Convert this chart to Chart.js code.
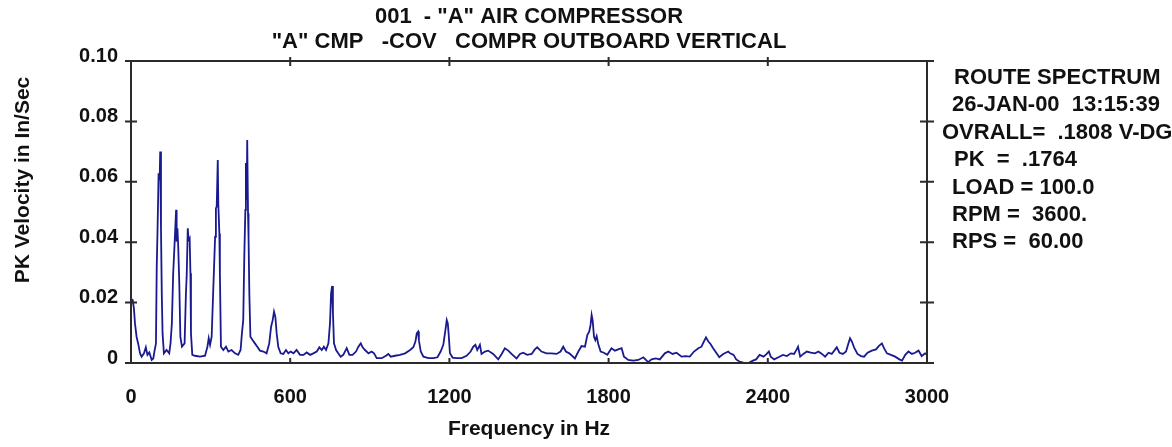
<!DOCTYPE html>
<html>
<head>
<meta charset="utf-8">
<script src="https://cdn.jsdelivr.net/npm/chart.js@4.4.0/dist/chart.umd.min.js"></script>
<style>
  html, body { margin: 0; padding: 0; background: #fff; }
  canvas { display: block; }
</style>
</head>
<body>
<canvas id="spectrumChart" width="1172" height="447"></canvas>
<script>
// ===================== data
const titleLines = ['001  - "A" AIR COMPRESSOR', '"A" CMP   -COV   COMPR OUTBOARD VERTICAL'];
const yAxisTitle = "PK Velocity in In/Sec";
const xAxisTitle = "Frequency in Hz";
const infoLines = [
  "ROUTE SPECTRUM",
  "26-JAN-00  13:15:39",
  "OVRALL=  .1808 V-DG",
  "PK  =  .1764",
  "LOAD = 100.0",
  "RPM =  3600.",
  "RPS =  60.00"
];
const infoIndent = [12, 10, 0, 12, 10, 10, 10];

const xTicks = [0, 600, 1200, 1800, 2400, 3000];
const xTickLabels = ["0", "600", "1200", "1800", "2400", "3000"];
const yTicks = [0, 0.02, 0.04, 0.06, 0.08, 0.1];
const yTickLabels = ["0", "0.02", "0.04", "0.06", "0.08", "0.10"];

// [frequency Hz, PK velocity in/sec]
const spectrum = [
  [0,0.0210],[6,0.0209],[11,0.0181],[15,0.0131],[21,0.0087],[28,0.0060],[34,0.0032],[40,0.0021],
  [49,0.0032],[56,0.0052],[62,0.0027],[69,0.0035],[78,0.0010],[84,0.0015],[89,0.0042],[94,0.0064],
  [97,0.0319],[100,0.0440],[104,0.0628],[108,0.0606],[110,0.0700],[113,0.0446],[116,0.0230],[119,0.0098],
  [124,0.0032],[134,0.0043],[144,0.0032],[149,0.0065],[154,0.0131],[159,0.0297],[164,0.0390],[170,0.0507],
  [172,0.0402],[175,0.0446],[178,0.0385],[182,0.0264],[186,0.0087],[192,0.0054],[202,0.0065],[207,0.0230],
  [210,0.0292],[214,0.0446],[217,0.0407],[221,0.0413],[224,0.0297],[226,0.0098],[231,0.0027],[241,0.0024],
  [260,0.0021],[279,0.0024],[288,0.0054],[293,0.0082],[298,0.0060],[304,0.0087],[310,0.0242],[317,0.0418],
  [320,0.0512],[323,0.0518],[327,0.0672],[329,0.0529],[333,0.0429],[335,0.0297],[339,0.0054],[348,0.0043],
  [358,0.0054],[367,0.0038],[379,0.0043],[392,0.0032],[404,0.0027],[413,0.0043],[418,0.0098],[423,0.0142],
  [427,0.0352],[431,0.0507],[433,0.0662],[436,0.0540],[438,0.0738],[441,0.0496],[443,0.0418],[446,0.0230],
  [450,0.0087],[458,0.0076],[467,0.0065],[476,0.0054],[486,0.0041],[499,0.0038],[511,0.0032],[521,0.0065],
  [528,0.0120],[534,0.0142],[539,0.0170],[544,0.0153],[549,0.0098],[555,0.0054],[564,0.0032],[574,0.0030],
  [584,0.0043],[593,0.0032],[602,0.0038],[612,0.0032],[624,0.0043],[637,0.0027],[650,0.0027],[662,0.0035],
  [675,0.0027],[687,0.0032],[700,0.0038],[710,0.0052],[719,0.0043],[727,0.0054],[735,0.0043],[744,0.0065],
  [750,0.0131],[754,0.0230],[758,0.0255],[761,0.0167],[765,0.0065],[773,0.0043],[781,0.0032],[790,0.0021],
  [800,0.0027],[813,0.0049],[823,0.0027],[835,0.0027],[848,0.0038],[857,0.0054],[866,0.0065],[873,0.0052],
  [882,0.0043],[895,0.0032],[907,0.0038],[916,0.0032],[926,0.0016],[945,0.0016],[961,0.0024],[970,0.0030],
  [979,0.0021],[995,0.0024],[1014,0.0027],[1033,0.0032],[1052,0.0043],[1064,0.0052],[1072,0.0071],[1077,0.0098],
  [1082,0.0104],[1085,0.0076],[1092,0.0038],[1102,0.0021],[1121,0.0016],[1140,0.0016],[1155,0.0019],[1167,0.0038],
  [1177,0.0060],[1185,0.0109],[1190,0.0142],[1194,0.0131],[1197,0.0098],[1202,0.0032],[1212,0.0018],[1227,0.0016],
  [1246,0.0016],[1265,0.0024],[1280,0.0038],[1290,0.0054],[1298,0.0060],[1305,0.0043],[1315,0.0060],[1321,0.0030],
  [1334,0.0038],[1346,0.0041],[1365,0.0030],[1384,0.0012],[1397,0.0030],[1409,0.0049],[1422,0.0041],[1434,0.0030],
  [1453,0.0015],[1466,0.0030],[1478,0.0034],[1493,0.0027],[1510,0.0030],[1522,0.0045],[1531,0.0052],[1547,0.0038],
  [1566,0.0032],[1585,0.0032],[1604,0.0030],[1619,0.0038],[1629,0.0054],[1639,0.0038],[1652,0.0032],[1673,0.0015],
  [1686,0.0038],[1698,0.0056],[1711,0.0054],[1720,0.0093],[1727,0.0104],[1732,0.0126],[1736,0.0159],[1740,0.0140],
  [1745,0.0087],[1750,0.0076],[1755,0.0089],[1761,0.0063],[1770,0.0038],[1782,0.0034],[1795,0.0027],[1811,0.0049],
  [1824,0.0041],[1836,0.0045],[1849,0.0049],[1858,0.0021],[1874,0.0010],[1893,0.0008],[1912,0.0010],[1931,0.0019],
  [1949,0.0003],[1962,0.0012],[1978,0.0015],[1993,0.0012],[2012,0.0032],[2025,0.0038],[2041,0.0030],[2056,0.0034],
  [2075,0.0021],[2091,0.0023],[2106,0.0021],[2122,0.0038],[2138,0.0049],[2150,0.0054],[2159,0.0071],[2167,0.0085],
  [2176,0.0071],[2184,0.0063],[2194,0.0049],[2207,0.0032],[2217,0.0019],[2232,0.0030],[2251,0.0038],[2258,0.0032],
  [2271,0.0027],[2281,0.0012],[2293,0.0005],[2308,0.0001],[2327,0.0000],[2344,0.0008],[2356,0.0012],[2369,0.0027],
  [2384,0.0021],[2396,0.0030],[2404,0.0038],[2411,0.0021],[2424,0.0012],[2440,0.0019],[2457,0.0027],[2472,0.0023],
  [2487,0.0032],[2499,0.0030],[2509,0.0045],[2514,0.0054],[2522,0.0021],[2534,0.0030],[2547,0.0038],[2562,0.0034],
  [2578,0.0032],[2591,0.0038],[2604,0.0030],[2616,0.0021],[2629,0.0034],[2641,0.0030],[2654,0.0045],[2660,0.0052],
  [2670,0.0034],[2683,0.0030],[2695,0.0038],[2704,0.0065],[2710,0.0082],[2717,0.0071],[2725,0.0052],[2738,0.0030],
  [2751,0.0023],[2763,0.0021],[2776,0.0034],[2792,0.0041],[2808,0.0045],[2818,0.0056],[2830,0.0065],[2838,0.0049],
  [2849,0.0032],[2864,0.0027],[2880,0.0021],[2896,0.0012],[2906,0.0008],[2918,0.0027],[2930,0.0038],[2943,0.0030],
  [2955,0.0034],[2968,0.0041],[2980,0.0023],[2993,0.0032],[3000,0.0027]
];

// ===================== look
const FONT = "'Liberation Sans', Arial, sans-serif";
const INK = "#111111";
const AXIS = "#2b2b2b";

// box round the plot, tick marks crossing the axes, and all the loose text
const framePlugin = {
  id: "frame",
  afterDraw(chart) {
    const ctx = chart.ctx;
    const a = chart.chartArea;
    const xs = chart.scales.x;
    const ys = chart.scales.y;
    ctx.save();
    ctx.strokeStyle = AXIS;
    ctx.lineWidth = 2;
    ctx.beginPath();
    ctx.moveTo(a.left - 6, a.top); ctx.lineTo(a.right + 7, a.top);
    ctx.moveTo(a.left - 6, a.bottom); ctx.lineTo(a.right + 7, a.bottom);
    ctx.moveTo(a.left, a.top); ctx.lineTo(a.left, a.bottom);
    ctx.moveTo(a.right, a.top); ctx.lineTo(a.right, a.bottom);
    yTicks.slice(1, -1).forEach(function (v) {
      const py = ys.getPixelForValue(v);
      ctx.moveTo(a.left - 6, py); ctx.lineTo(a.left + 6, py);
      ctx.moveTo(a.right - 7, py); ctx.lineTo(a.right + 7, py);
    });
    xTicks.slice(1, -1).forEach(function (v) {
      const px = xs.getPixelForValue(v);
      ctx.moveTo(px, a.top - 4); ctx.lineTo(px, a.top + 5);
      ctx.moveTo(px, a.bottom); ctx.lineTo(px, a.bottom - 5);
    });
    ctx.stroke();

    ctx.fillStyle = INK;
    ctx.textBaseline = "middle";
    ctx.textAlign = "center";
    const midX = (a.left + a.right) / 2;
    ctx.font = "bold 22px " + FONT;
    ctx.fillText(titleLines[0], midX, 17);
    ctx.fillText(titleLines[1], midX, 42);

    ctx.font = "bold 21px " + FONT;
    ctx.fillText(xAxisTitle, midX, 429);

    ctx.save();
    ctx.translate(23, 180);
    ctx.rotate(-Math.PI / 2);
    ctx.fillText(yAxisTitle, 0, 0);
    ctx.restore();

    ctx.font = "bold 22px " + FONT;
    ctx.textAlign = "left";
    infoLines.forEach(function (line, i) {
      ctx.fillText(line, 942 + infoIndent[i], 78 + i * 27.4);
    });
    ctx.restore();
  }
};

const ctx = document.getElementById("spectrumChart").getContext("2d");
const spectrumChart = new Chart(ctx, {
  type: "line",
  data: {
    datasets: [
      {
        data: spectrum.map(function (p) { return { x: p[0], y: p[1] }; }),
        borderColor: "#1a1a90",
        borderWidth: 1.8,
        pointRadius: 0,
        tension: 0,
        fill: false
      }
    ]
  },
  options: {
    responsive: false,
    animation: false,
    layout: { padding: { left: 0, right: 245, top: 61, bottom: 0 } },
    plugins: {
      legend: { display: false },
      tooltip: { enabled: false }
    },
    scales: {
      x: {
        type: "linear",
        min: 0,
        max: 3000,
        afterBuildTicks: function (scale) {
          scale.ticks = xTicks.map(function (v) { return { value: v }; });
        },
        afterFit: function (scale) { scale.height = 84; },
        grid: { display: false, drawTicks: false },
        border: { display: false },
        ticks: {
          autoSkip: false,
          maxRotation: 0,
          padding: 22,
          color: INK,
          font: { family: FONT, size: 20, weight: "bold" },
          callback: function (v) { return xTickLabels[xTicks.indexOf(v)]; }
        }
      },
      y: {
        min: 0,
        max: 0.1,
        afterBuildTicks: function (scale) {
          scale.ticks = yTicks.map(function (v) { return { value: v }; });
        },
        afterFit: function (scale) { scale.width = 131; },
        grid: { display: false, drawTicks: false },
        border: { display: false },
        ticks: {
          autoSkip: false,
          padding: 13,
          labelOffset: -5,
          color: INK,
          font: { family: FONT, size: 20, weight: "bold" },
          callback: function (v) { return yTickLabels[yTicks.indexOf(v)]; }
        }
      }
    }
  },
  plugins: [framePlugin]
});
</script>
</body>
</html>
